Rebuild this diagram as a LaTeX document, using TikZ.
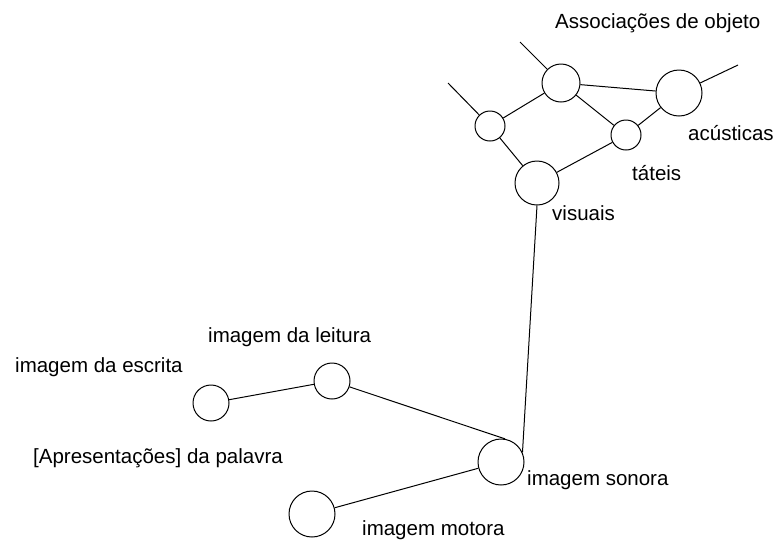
\documentclass[tikz,border=0pt]{standalone}
\usepackage{fontspec}
\setmainfont{Liberation Sans}
\begin{document}
\begin{tikzpicture}[x=1pt,y=-1pt,
  lbl/.style={anchor=base west,inner sep=0pt,font=\fontsize{20.5}{24}\selectfont},
  circ/.style={circle,draw,line width=1pt,inner sep=0pt,minimum size=#1},
  conn/.style={line width=1pt}]
\useasboundingbox (0,0) rectangle (778,539);
% object associations
\node[circ=38pt] (A) at (561,83) {};
\node[circ=46pt] (B) at (679,93) {};
\node[circ=30pt] (C) at (490,126) {};
\node[circ=30pt] (D) at (626,135) {};
\node[circ=44pt] (E) at (537,183) {};
\coordinate (As) at (520,42);
\coordinate (Cs) at (448,83);
\coordinate (Bs) at (738,65);
% word presentations
\node[circ=36pt] (leitura) at (332,381) {};
\node[circ=36pt] (escrita) at (211,403) {};
\node[circ=46pt] (sonora) at (501,462) {};
\node[circ=46pt] (motora) at (312,514) {};
% connectors
\draw[conn] (A) -- (B);
\draw[conn] (A) -- (C);
\draw[conn] (A) -- (D);
\draw[conn] (B) -- (D);
\draw[conn] (C) -- (E);
\draw[conn] (D) -- (E);
\draw[conn] (A) -- (As);
\draw[conn] (C) -- (Cs);
\draw[conn] (B) -- (Bs);
\draw[conn] (E.south) -- (sonora.24);
\draw[conn] (escrita) -- (leitura);
\draw[conn] (leitura) -- (sonora.80);
\draw[conn] (motora) -- (sonora);
% labels
\node[lbl] (t1) at (555,28) {Associações de objeto};
\node[lbl] (t2) at (688,140) {acústicas};
\node[lbl] (t3) at (632,180) {táteis};
\node[lbl] (t4) at (552,220) {visuais};
\node[lbl] (t5) at (208,342) {imagem da leitura};
\node[lbl] (t6) at (15,372) {imagem da escrita};
\node[lbl] (t7) at (33,463) {[Apresentações] da palavra};
\node[lbl] (t8) at (527,485) {imagem sonora};
\node[lbl] (t9) at (362,535) {imagem motora};
\end{tikzpicture}
\end{document}
